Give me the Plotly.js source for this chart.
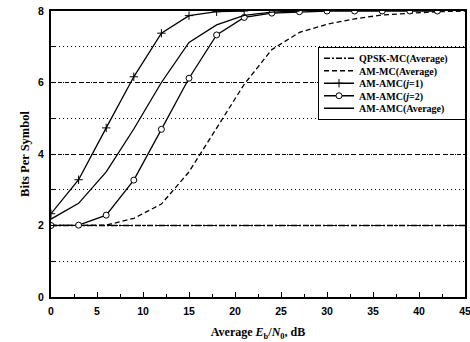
<!DOCTYPE html>
<html>
<head>
<meta charset="utf-8">
<script src="https://cdn.plot.ly/plotly-3.0.1.min.js"></script>
<style>html,body{margin:0;padding:0;background:#fff;}#chart{width:470px;height:342px;}</style>
</head>
<body>
<div id="chart"></div>
<script>
// Data
var ebno = [0, 3, 6, 9, 12, 15, 18, 21, 24, 27, 30, 33, 36, 39, 42, 45];
var qpskMcAvg = [2, 2, 2, 2, 2, 2, 2, 2, 2, 2, 2, 2, 2, 2, 2, 2];
var amMcAvg = [2, 2, 2.01, 2.2, 2.6, 3.5, 4.72, 5.95, 6.92, 7.4, 7.63, 7.78, 7.89, 7.94, 7.98, 8];
var ebnoJ1 = [0, 3, 6, 9, 12, 15, 18, 21];
var amAmcJ1 = [2.33, 3.28, 4.73, 6.16, 7.38, 7.87, 7.98, 8];
var ebnoJ2 = [0, 3, 6, 9, 12, 15, 18, 21, 24, 27, 30, 33, 36, 39, 42];
var amAmcJ2 = [2, 2.01, 2.29, 3.27, 4.69, 6.12, 7.33, 7.82, 7.94, 7.98, 8, 8, 8, 8, 8];
var ebnoAvg = [0, 3, 6, 9, 12, 15, 18, 21, 24, 27];
var amAmcAvg = [2.18, 2.62, 3.5, 4.7, 6.0, 7.12, 7.61, 7.88, 7.97, 8];
var yTicks = [0, 2, 4, 6, 8];
var xTicks = [0, 5, 10, 15, 20, 25, 30, 35, 40, 45];

var serif = 'Liberation Serif, Times New Roman, serif';
var sans = 'Liberation Sans, Arial, sans-serif';

var traces = [
  {x: ebno, y: qpskMcAvg, name: 'QPSK-MC(Average)', mode: 'lines',
   line: {color: '#000', width: 1.3, dash: '6px,2px,2px,2px'}},
  {x: ebno, y: amMcAvg, name: 'AM-MC(Average)', mode: 'lines',
   line: {color: '#000', width: 1.3, dash: '5px,3px'}},
  {x: ebnoJ1, y: amAmcJ1, name: 'AM-AMC(<i>j</i>=1)', mode: 'lines+markers',
   line: {color: '#000', width: 1.3},
   marker: {symbol: 'cross-thin-open', size: 6, color: '#000', line: {color: '#000', width: 1}}},
  {x: ebnoJ2, y: amAmcJ2, name: 'AM-AMC(<i>j</i>=2)', mode: 'lines+markers',
   line: {color: '#000', width: 1.3},
   marker: {symbol: 'circle', size: 6, color: '#fff', line: {color: '#000', width: 1}}},
  {x: ebnoAvg, y: amAmcAvg, name: 'AM-AMC(Average)', mode: 'lines',
   line: {color: '#000', width: 1.3}},
  // invisible trace on the overlay axis to carry the dashed grid
  {x: [0], y: [0], yaxis: 'y2', mode: 'markers', showlegend: false, hoverinfo: 'skip',
   marker: {opacity: 0}}
];

var layout = {
  width: 470, height: 342,
  margin: {l: 51, r: 5, t: 11, b: 45},
  paper_bgcolor: '#fff', plot_bgcolor: '#fff',
  showlegend: true,
  legend: {
    x: 0.645, y: 0.875, xanchor: 'left', yanchor: 'top',
    bgcolor: '#fff', bordercolor: '#000', borderwidth: 1,
    font: {family: serif, size: 10, color: '#000', weight: 'bold'},
    tracegroupgap: 0, itemwidth: 30
  },
  xaxis: {
    range: [0, 45], tickmode: 'array', tickvals: xTicks,
    ticks: 'inside', ticklen: 5, tickwidth: 1, tickcolor: '#000',
    minor: {dtick: 2.5, ticks: 'inside', ticklen: 3, tickcolor: '#000'},
    showgrid: false, zeroline: false,
    showline: true, linecolor: '#000', linewidth: 2, mirror: true,
    ticklabeloverflow: 'allow', ticklabelstandoff: 3,
    tickfont: {family: sans, size: 10.5, color: '#000', weight: 'bold'},
    title: {text: 'Average <i>E</i><sub>b</sub>/<i>N</i><sub>0</sub>, dB',
            font: {family: serif, size: 12, color: '#000', weight: 'bold'}, standoff: 12}
  },
  yaxis: {
    range: [0, 8], tickmode: 'array', tickvals: yTicks,
    ticks: 'inside', ticklen: 5, tickwidth: 1, tickcolor: '#000',
    minor: {dtick: 1, ticks: 'inside', ticklen: 4, tickcolor: '#000',
            showgrid: true, gridcolor: '#000', griddash: '1px,3px', gridwidth: 1},
    showgrid: false, zeroline: false,
    showline: true, linecolor: '#000', linewidth: 2, mirror: true,
    ticklabelstandoff: 3,
    tickfont: {family: sans, size: 10.5, color: '#000', weight: 'bold'},
    title: {text: 'Bits Per Symbol',
            font: {family: serif, size: 12.5, color: '#000', weight: 'bold'}, standoff: 6}
  },
  yaxis2: {
    range: [0, 8], overlaying: 'y', side: 'left', dtick: 2,
    showgrid: true, gridcolor: '#000', griddash: '4px,3px', gridwidth: 1,
    showticklabels: false, ticks: '', zeroline: false, showline: false
  }
};

Plotly.newPlot('chart', traces, layout, {displayModeBar: false, staticPlot: true}).then(function (gd) {
  // Compact the legend rows to match the tighter spacing of the reference
  var items = gd.querySelectorAll('.legend .traces');
  var rowGap = 12.5, firstRow = 11.5;
  items.forEach(function (el, i) {
    var t = el.getAttribute('transform') || '';
    var m = t.match(/translate\(\s*([-\d.]+)[ ,]+([-\d.]+)\s*\)/);
    var x = m ? parseFloat(m[1]) : 1;
    el.setAttribute('transform', 'translate(' + x + ',' + (firstRow + i * rowGap) + ')');
  });
  var bg = gd.querySelector('.legend .bg');
  if (bg) {
    var h = firstRow * 2 + rowGap * (items.length - 1) - 1;
    bg.setAttribute('height', h);
    bg.setAttribute('width', 147);
  }
  var clip = gd.querySelectorAll('.legend clipPath rect, clipPath[id*="legend"] rect');
  clip.forEach(function (r) { r.setAttribute('height', 200); r.setAttribute('width', 200); });
});
</script>
</body>
</html>
